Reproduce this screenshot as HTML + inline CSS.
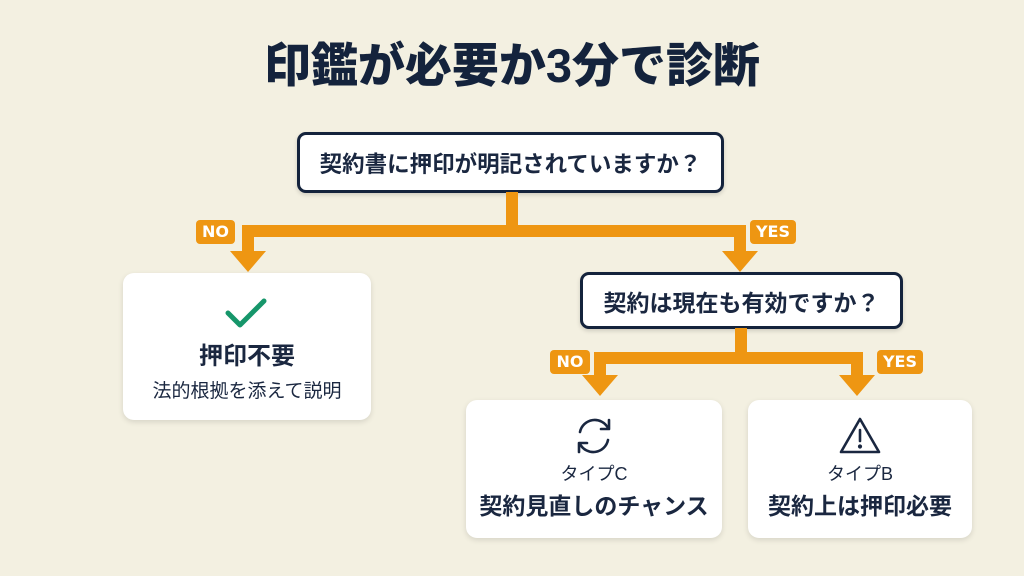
<!DOCTYPE html>
<html><head><meta charset="utf-8"><style>
html,body{margin:0;padding:0}
body{width:1024px;height:576px;background:#f3f0e1;position:relative;overflow:hidden;font-family:"Liberation Sans","Noto Sans CJK JP",sans-serif;color:#1a2740}
.a{position:absolute}
.title{left:0;width:1024px;top:30px;text-align:center;font-size:47px;font-weight:900;line-height:72px;color:#14233c;letter-spacing:0px}
.q{background:#fff;border:3px solid #14233c;border-radius:9px;box-sizing:border-box;display:flex;align-items:center;justify-content:center;font-weight:700;box-shadow:0 2px 4px rgba(0,0,0,.15)}
.card{background:#fff;border-radius:11px;box-shadow:0 2px 6px rgba(0,0,0,.12);text-align:center}
.lbl{background:#ee9612;color:#fff;font-weight:700;font-size:16px;border-radius:4px;text-align:center;line-height:24px;font-family:"DejaVu Sans",sans-serif}
.o{background:#ee9612}
</style></head><body>
<div class="a title">印鑑が必要か3分で診断</div>

<div class="a q" style="left:297px;top:132px;width:427px;height:61px;font-size:22.5px">契約書に押印が明記されていますか？</div>

<div class="a o" style="left:506px;top:192px;width:12px;height:40px"></div>
<div class="a o" style="left:242px;top:225px;width:504px;height:12px;border-radius:6px 6px 0 0"></div>
<div class="a o" style="left:242px;top:225px;width:12px;height:30px"></div>
<div class="a o" style="left:734px;top:225px;width:12px;height:30px"></div>
<svg class="a" style="left:0;top:0" width="1024" height="576">
<polygon points="230,251 266,251 248,272" fill="#ee9612"/>
<polygon points="722,251 758,251 740,272" fill="#ee9612"/>
<polygon points="582,375 618,375 600,396" fill="#ee9612"/>
<polygon points="839,375 875,375 857,396" fill="#ee9612"/>
</svg>
<div class="a lbl" style="left:196px;top:220px;width:39px">NO</div>
<div class="a lbl" style="left:750px;top:220px;width:46px">YES</div>

<div class="a card" style="left:123px;top:273px;width:248px;height:147px">
<svg width="50" height="40" style="position:absolute;left:99px;top:20px"><polyline points="6,20 18,32 42,8" fill="none" stroke="#16966a" stroke-width="5" stroke-linecap="round" stroke-linejoin="round"/></svg>
<div style="position:absolute;left:0;right:0;top:68px;font-size:24px;font-weight:700;line-height:32px">押印不要</div>
<div style="position:absolute;left:0;right:0;top:106px;font-size:19px;line-height:26px">法的根拠を添えて説明</div>
</div>

<div class="a q" style="left:580px;top:272px;width:323px;height:57px;font-size:23px">契約は現在も有効ですか？</div>
<div class="a o" style="left:735px;top:328px;width:12px;height:32px"></div>
<div class="a o" style="left:594px;top:352px;width:269px;height:12px;border-radius:6px 6px 0 0"></div>
<div class="a o" style="left:594px;top:352px;width:12px;height:26px"></div>
<div class="a o" style="left:851px;top:352px;width:12px;height:26px"></div>
<div class="a lbl" style="left:550px;top:350px;width:40px">NO</div>
<div class="a lbl" style="left:877px;top:350px;width:46px">YES</div>

<div class="a card" style="left:466px;top:400px;width:256px;height:138px">
<svg width="44" height="44" style="position:absolute;left:106px;top:14px" viewBox="0 0 44 44" fill="none" stroke="#1a2740" stroke-width="2.6" stroke-linecap="round" stroke-linejoin="round">
<path d="M8 18 A15 15 0 0 1 36 14"/><polyline points="37,6 37,15 29,15"/>
<path d="M36 26 A15 15 0 0 1 8 30"/><polyline points="7,38 7,29 15,29"/></svg>
<div style="position:absolute;left:0;right:0;top:61px;font-size:18px;line-height:26px">タイプC</div>
<div style="position:absolute;left:0;right:0;top:90px;font-size:23px;font-weight:700;line-height:32px">契約見直しのチャンス</div>
</div>

<div class="a card" style="left:748px;top:400px;width:224px;height:138px">
<svg width="44" height="40" style="position:absolute;left:90px;top:16px" viewBox="0 0 44 40" fill="none" stroke="#1a2740" stroke-width="2.6" stroke-linejoin="round" stroke-linecap="round">
<polygon points="22,3 41,36 3,36"/><line x1="22" y1="14" x2="22" y2="25"/><circle cx="22" cy="30.5" r="0.8" fill="#1a2740"/></svg>
<div style="position:absolute;left:0;right:0;top:61px;font-size:18px;line-height:26px">タイプB</div>
<div style="position:absolute;left:0;right:0;top:90px;font-size:23px;font-weight:700;line-height:32px">契約上は押印必要</div>
</div>
</body></html>
